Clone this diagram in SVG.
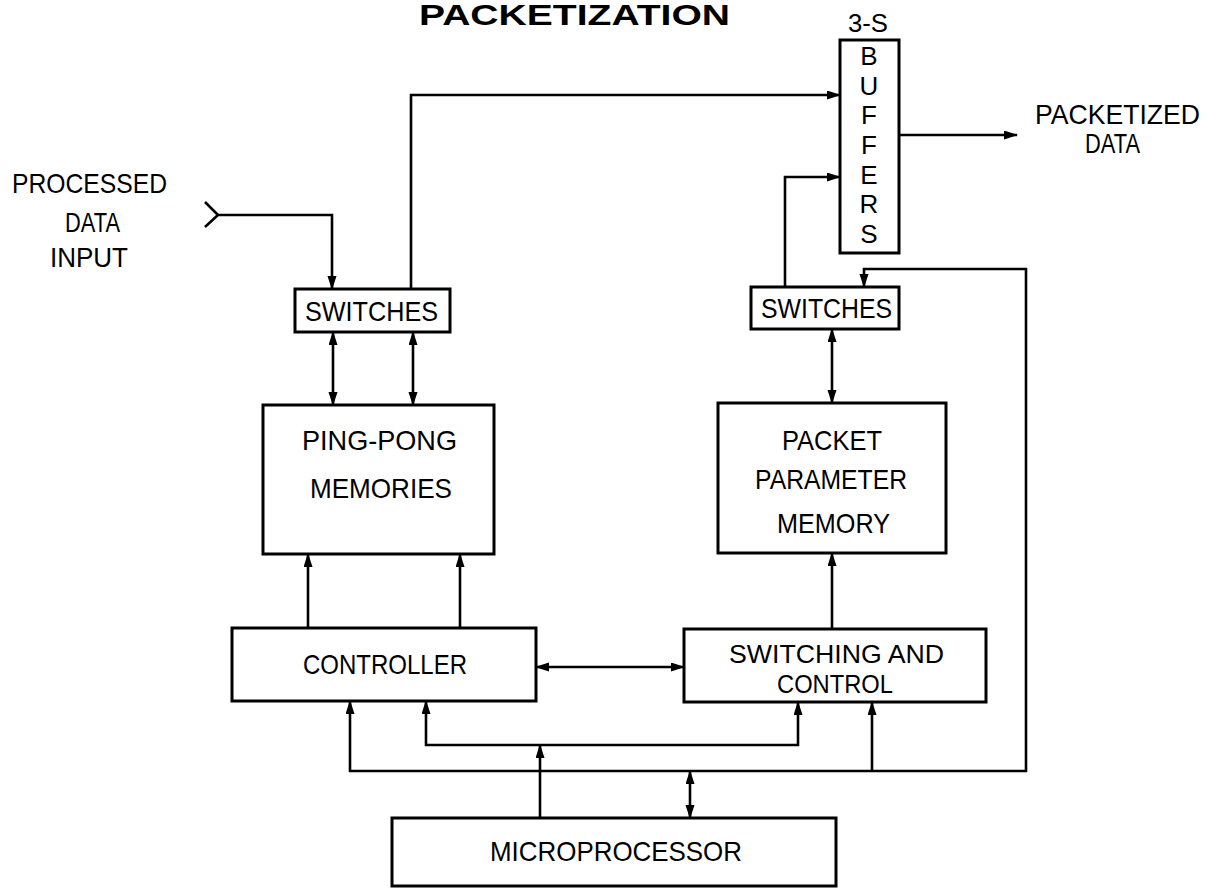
<svg xmlns="http://www.w3.org/2000/svg" width="1208" height="888" viewBox="0 0 1208 888">
<style>
.box{fill:#fff;stroke:#000;stroke-width:3}
.ln{fill:none;stroke:#000;stroke-width:2.6}
.t{font-family:"Liberation Sans",Arial,sans-serif;font-size:28px;fill:#000}
.s{font-size:26px}
.tt{font-family:"Liberation Sans",Arial,sans-serif;font-size:29px;font-weight:bold;fill:#000}
.c{text-anchor:middle}
</style>
<defs>
<marker id="ah" markerUnits="userSpaceOnUse" markerWidth="14" markerHeight="10" refX="13" refY="4.5" orient="auto-start-reverse">
<path d="M0,0 L14,4.5 L0,9 z" fill="#000"/>
</marker>
</defs>
<rect width="1208" height="888" fill="#fff"/>
<text class="tt" x="419" y="25" textLength="311" lengthAdjust="spacingAndGlyphs">PACKETIZATION</text>

<g id="connectors">
<polyline class="ln" points="205,202 218,215 205,227"/>
<polyline class="ln" points="218,215 332,215 332,289" marker-end="url(#ah)"/>
<polyline class="ln" points="411,289 411,95 840,95" marker-end="url(#ah)"/>
<line class="ln" x1="333" y1="332" x2="333" y2="405" marker-start="url(#ah)" marker-end="url(#ah)"/>
<line class="ln" x1="413" y1="332" x2="413" y2="405" marker-start="url(#ah)" marker-end="url(#ah)"/>
<line class="ln" x1="308" y1="628" x2="308" y2="554" marker-end="url(#ah)"/>
<line class="ln" x1="460" y1="628" x2="460" y2="554" marker-end="url(#ah)"/>
<line class="ln" x1="536" y1="667" x2="684" y2="667" marker-start="url(#ah)" marker-end="url(#ah)"/>
<polyline class="ln" points="785,287 785,177 840,177" marker-end="url(#ah)"/>
<line class="ln" x1="899" y1="135" x2="1017" y2="135" marker-end="url(#ah)"/>
<line class="ln" x1="832" y1="329" x2="832" y2="403" marker-start="url(#ah)" marker-end="url(#ah)"/>
<line class="ln" x1="832" y1="629" x2="832" y2="553" marker-end="url(#ah)"/>
<polyline class="ln" points="350,701 350,771 1026,771 1026,269 864,269 864,287" marker-start="url(#ah)" marker-end="url(#ah)"/>
<line class="ln" x1="872" y1="771" x2="872" y2="702" marker-end="url(#ah)"/>
<polyline class="ln" points="426,701 426,745 798,745 798,702" marker-start="url(#ah)" marker-end="url(#ah)"/>
<line class="ln" x1="540" y1="818" x2="540" y2="745" marker-end="url(#ah)"/>
<line class="ln" x1="690" y1="771" x2="690" y2="818" marker-start="url(#ah)" marker-end="url(#ah)"/>
</g>

<g id="input-label">
<text class="t" x="12" y="193" textLength="155" lengthAdjust="spacingAndGlyphs">PROCESSED</text>
<text class="t" x="65" y="232" textLength="55" lengthAdjust="spacingAndGlyphs">DATA</text>
<text class="t" x="50" y="267" textLength="78" lengthAdjust="spacingAndGlyphs">INPUT</text>
</g>

<g id="output-label">
<text class="t" x="1035" y="124" font-size="25" textLength="165" lengthAdjust="spacingAndGlyphs">PACKETIZED</text>
<text class="t" x="1085" y="153" font-size="25" textLength="55" lengthAdjust="spacingAndGlyphs">DATA</text>
</g>

<g id="buffers">
<text class="t s" x="848" y="32" textLength="40" lengthAdjust="spacingAndGlyphs">3-S</text>
<rect class="box" x="840" y="40" width="59" height="213"/>
<g class="t s c">
<text x="869" y="65">B</text>
<text x="869" y="95">U</text>
<text x="869" y="124">F</text>
<text x="869" y="154">F</text>
<text x="869" y="184">E</text>
<text x="869" y="213">R</text>
<text x="869" y="243">S</text>
</g>
</g>

<g id="switches-left">
<rect class="box" x="295" y="289" width="155" height="43"/>
<text class="t" x="305" y="321" textLength="133" lengthAdjust="spacingAndGlyphs">SWITCHES</text>
</g>

<g id="switches-right">
<rect class="box" x="751" y="287" width="148" height="42"/>
<text class="t" x="761" y="318" textLength="131" lengthAdjust="spacingAndGlyphs">SWITCHES</text>
</g>

<g id="ping-pong">
<rect class="box" x="263" y="405" width="231" height="149"/>
<text class="t" x="302" y="450" textLength="155" lengthAdjust="spacingAndGlyphs">PING-PONG</text>
<text class="t" x="310" y="498" textLength="142" lengthAdjust="spacingAndGlyphs">MEMORIES</text>
</g>

<g id="packet-param">
<rect class="box" x="718" y="403" width="228" height="150"/>
<text class="t" x="782" y="450" textLength="100" lengthAdjust="spacingAndGlyphs">PACKET</text>
<text class="t" x="755" y="489" textLength="152" lengthAdjust="spacingAndGlyphs">PARAMETER</text>
<text class="t" x="777" y="533" textLength="113" lengthAdjust="spacingAndGlyphs">MEMORY</text>
</g>

<g id="controller">
<rect class="box" x="232" y="628" width="304" height="73"/>
<text class="t" x="303" y="674" textLength="164" lengthAdjust="spacingAndGlyphs">CONTROLLER</text>
</g>

<g id="switching-control">
<rect class="box" x="684" y="629" width="302" height="73"/>
<text class="t s" x="729" y="663" textLength="215" lengthAdjust="spacingAndGlyphs">SWITCHING AND</text>
<text class="t s" x="777" y="693" textLength="116" lengthAdjust="spacingAndGlyphs">CONTROL</text>
</g>

<g id="microprocessor">
<rect class="box" x="392" y="818" width="444" height="68"/>
<text class="t" x="490" y="861" textLength="252" lengthAdjust="spacingAndGlyphs">MICROPROCESSOR</text>
</g>
</svg>
